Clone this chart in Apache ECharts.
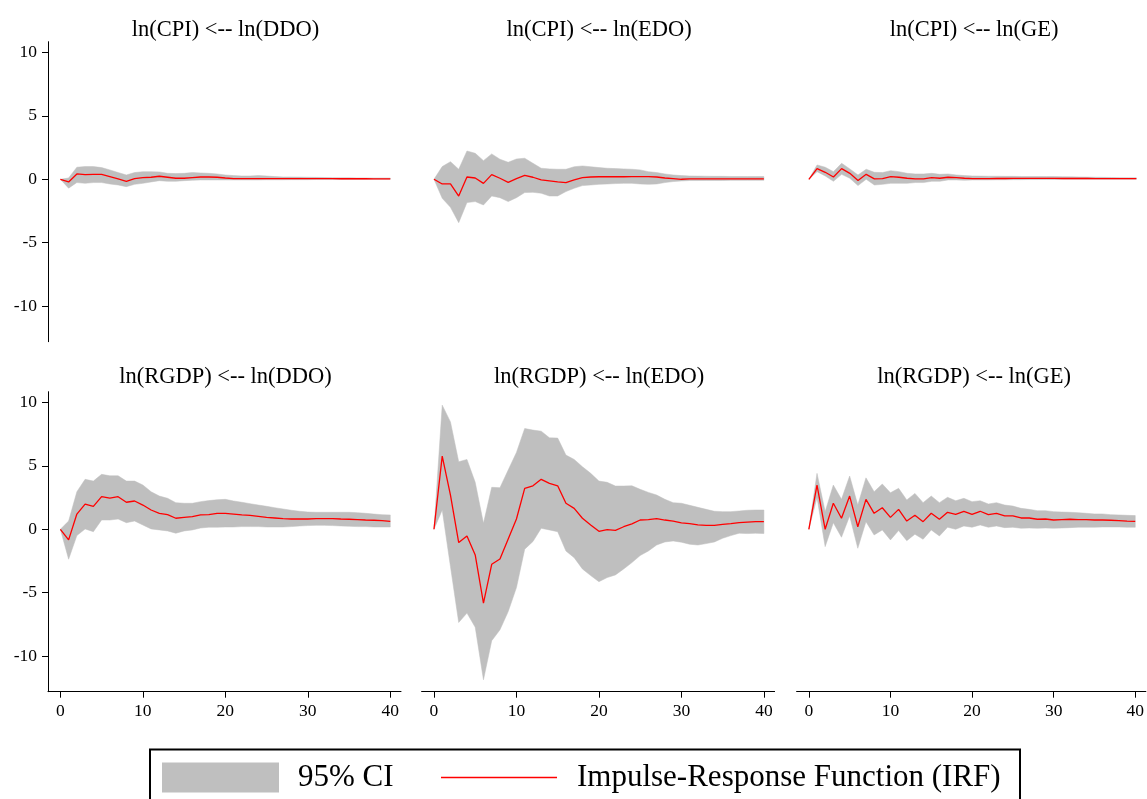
<!DOCTYPE html>
<html><head><meta charset="utf-8">
<script src="https://cdn.jsdelivr.net/npm/echarts@6/dist/echarts.min.js"></script>
<style>html,body{margin:0;padding:0;background:#fff}#c{width:1147px;height:799px}</style>
</head><body><div id="c"></div>
<script>
const steps = Array.from({length:41},(_,i)=>i);
const titles = ['ln(CPI) <-- ln(DDO)','ln(CPI) <-- ln(EDO)','ln(CPI) <-- ln(GE)',
                'ln(RGDP) <-- ln(DDO)','ln(RGDP) <-- ln(EDO)','ln(RGDP) <-- ln(GE)'];
const yTicks = [-10,-5,0,5,10];
const xTicks = [0,10,20,30,40];
const legendCI = '95% CI';
const legendIRF = 'Impulse-Response Function (IRF)';

const cpiDdoIrf = [0,-0.21,0.42,0.37,0.39,0.39,0.21,0.03,-0.16,0.05,0.13,0.16,0.24,0.16,0.08,0.08,0.13,0.18,0.18,0.16,0.1,0.05,0.05,0.05,0.05,0.05,0.05,0.05,0.05,0.05,0.05,0.05,0.05,0.05,0.04,0.04,0.04,0.04,0.03,0.03,0.03];
const cpiDdoUp  = [0,0.1,0.95,1.0,1.0,0.92,0.74,0.53,0.34,0.53,0.6,0.6,0.58,0.47,0.45,0.47,0.53,0.5,0.47,0.42,0.34,0.29,0.26,0.26,0.29,0.26,0.21,0.18,0.18,0.17,0.16,0.15,0.14,0.13,0.12,0.12,0.11,0.11,0.1,0.1,0.1];
const cpiDdoLo  = [0,-0.7,-0.26,-0.32,-0.26,-0.26,-0.37,-0.45,-0.58,-0.4,-0.32,-0.21,-0.11,-0.16,-0.16,-0.11,-0.08,-0.05,-0.05,-0.05,-0.05,-0.05,-0.05,-0.05,-0.05,-0.04,-0.04,-0.04,-0.03,-0.03,-0.03,-0.02,-0.02,-0.02,-0.02,-0.01,-0.01,-0.01,0,0,0];

const cpiEdoIrf = [0,-0.37,-0.37,-1.32,0.18,0.1,-0.32,0.37,0.08,-0.24,0.05,0.31,0.16,-0.05,-0.13,-0.21,-0.26,-0.05,0.13,0.18,0.2,0.2,0.2,0.2,0.21,0.21,0.21,0.18,0.1,0.05,0,0.03,0.03,0.03,0.03,0.03,0.03,0.03,0.03,0.03,0.03];
const cpiEdoUp  = [0,1.0,1.39,0.79,2.23,2.05,1.47,2.0,1.58,1.34,1.6,1.66,1.26,0.87,0.82,0.79,0.79,0.99,1.05,0.99,0.92,0.87,0.84,0.82,0.79,0.74,0.6,0.53,0.42,0.34,0.29,0.26,0.25,0.24,0.23,0.23,0.22,0.22,0.21,0.21,0.21];
const cpiEdoLo  = [0,-1.5,-2.21,-3.42,-1.84,-1.76,-2.03,-1.32,-1.45,-1.76,-1.45,-1.05,-1.03,-1.1,-1.32,-1.32,-0.97,-0.71,-0.5,-0.45,-0.4,-0.37,-0.34,-0.32,-0.32,-0.37,-0.4,-0.37,-0.26,-0.18,-0.13,-0.1,-0.1,-0.09,-0.09,-0.09,-0.08,-0.08,-0.08,-0.08,-0.08];

const cpiGeIrf = [0,0.84,0.55,0.18,0.84,0.47,-0.1,0.39,0.03,0.05,0.21,0.16,0.08,0.03,0.03,0.13,0.08,0.16,0.13,0.08,0.05,0.05,0.05,0.06,0.06,0.07,0.07,0.07,0.07,0.07,0.07,0.06,0.06,0.06,0.06,0.05,0.05,0.05,0.05,0.05,0.05];
const cpiGeUp  = [0,1.13,0.95,0.6,1.26,0.82,0.34,0.79,0.55,0.53,0.68,0.6,0.47,0.42,0.42,0.47,0.39,0.42,0.34,0.29,0.26,0.25,0.24,0.24,0.23,0.23,0.22,0.22,0.22,0.21,0.21,0.2,0.19,0.18,0.17,0.16,0.15,0.14,0.13,0.12,0.12];
const cpiGeLo  = [0,0.6,0.26,-0.16,0.39,0.08,-0.5,0,-0.45,-0.4,-0.32,-0.32,-0.32,-0.26,-0.26,-0.16,-0.16,-0.05,-0.05,-0.08,-0.05,-0.05,-0.05,-0.04,-0.04,-0.03,-0.03,-0.02,-0.02,-0.01,-0.01,0,0,0,0,0,0,0,0,0,0];

const gdpDdoIrf = [0,-0.84,1.2,1.99,1.81,2.57,2.46,2.57,2.13,2.23,1.91,1.52,1.26,1.15,0.87,0.94,0.99,1.13,1.15,1.26,1.26,1.2,1.13,1.1,1.02,0.94,0.89,0.84,0.81,0.81,0.81,0.84,0.84,0.84,0.81,0.79,0.76,0.73,0.71,0.68,0.63];
const gdpDdoUp  = [0,0.65,2.96,3.94,3.8,4.33,4.22,4.22,3.8,3.8,3.49,2.96,2.62,2.44,2.1,2.05,2.05,2.18,2.26,2.33,2.36,2.23,2.13,2.02,1.91,1.81,1.7,1.6,1.5,1.42,1.36,1.34,1.34,1.34,1.34,1.34,1.31,1.26,1.2,1.15,1.13];
const gdpDdoLo  = [0,-2.36,-0.5,0.03,-0.19,0.73,0.73,0.81,0.52,0.65,0.34,0.03,-0.05,-0.13,-0.31,-0.13,-0.05,0.1,0.16,0.16,0.18,0.18,0.21,0.21,0.21,0.18,0.18,0.18,0.21,0.26,0.29,0.31,0.31,0.29,0.26,0.24,0.21,0.21,0.18,0.18,0.18];

const gdpEdoIrf = [0,5.77,2.7,-1.05,-0.53,-2.02,-5.83,-2.76,-2.34,-0.76,0.81,3.23,3.43,3.94,3.62,3.43,2.05,1.65,0.87,0.34,-0.16,-0.03,-0.08,0.2,0.42,0.73,0.76,0.84,0.73,0.65,0.5,0.44,0.34,0.31,0.31,0.39,0.44,0.52,0.57,0.6,0.6];
const gdpEdoUp  = [0,9.79,8.47,5.32,5.51,3.7,0.47,3.31,3.28,4.67,6.06,7.95,7.82,7.74,7.21,7.19,5.85,5.51,4.93,4.41,3.8,3.7,3.41,3.41,3.43,3.15,2.91,2.7,2.36,2.1,2.05,1.89,1.73,1.57,1.42,1.39,1.39,1.44,1.5,1.52,1.52];
const gdpEdoLo  = [0,1.52,-2.94,-7.35,-6.61,-7.72,-11.87,-8.79,-7.93,-6.49,-4.6,-1.57,-0.97,0.08,-0.05,-0.19,-1.71,-2.24,-3.13,-3.65,-4.13,-3.81,-3.6,-3.13,-2.63,-2.07,-1.71,-1.24,-1.0,-0.92,-1.02,-1.18,-1.24,-1.13,-1.0,-0.71,-0.5,-0.31,-0.34,-0.31,-0.34];

const gdpGeIrf = [0,3.49,0,2.05,0.87,2.62,0.2,2.36,1.26,1.7,0.94,1.57,0.65,1.1,0.6,1.26,0.79,1.34,1.18,1.42,1.18,1.42,1.15,1.26,1.05,1.05,0.89,0.89,0.79,0.81,0.73,0.76,0.79,0.76,0.76,0.73,0.73,0.71,0.68,0.65,0.63];
const gdpGeUp  = [0,4.41,1.39,3.49,2.36,4.2,1.91,4.06,2.96,3.57,2.88,3.23,2.31,2.83,2.1,2.62,2.1,2.52,2.25,2.44,2.18,2.25,1.99,2.1,1.91,1.83,1.65,1.57,1.47,1.47,1.39,1.36,1.34,1.31,1.26,1.21,1.21,1.15,1.13,1.1,1.08];
const gdpGeLo  = [0,2.5,-1.37,0.52,-0.63,1.05,-1.5,0.6,-0.45,-0.05,-0.84,-0.1,-0.9,-0.39,-0.79,-0.05,-0.53,0.16,0,0.26,0.16,0.34,0.16,0.26,0.13,0.16,0.08,0.1,0.08,0.1,0.08,0.1,0.13,0.16,0.16,0.16,0.18,0.18,0.18,0.16,0.16];

const panels = [
  [cpiDdoIrf,cpiDdoUp,cpiDdoLo],[cpiEdoIrf,cpiEdoUp,cpiEdoLo],[cpiGeIrf,cpiGeUp,cpiGeLo],
  [gdpDdoIrf,gdpDdoUp,gdpDdoLo],[gdpEdoIrf,gdpEdoUp,gdpEdoLo],[gdpGeIrf,gdpGeUp,gdpGeLo]
];

const FONT = '"Liberation Serif","Times New Roman",serif';
const colLeft = [48, 421.6, 796.6], gridW = 353;
const rowTop = [41.7, 391.7], gridH = 300;
const titleTop = [14, 361];
const GRAY = '#bfbfbf';

const grid=[], xAxis=[], yAxis=[], series=[], title=[];
panels.forEach((p,i)=>{
  const r = Math.floor(i/3), c = i%3;
  grid.push({left:colLeft[c], top:rowTop[r], width:gridW, height:gridH});
  title.push({text:titles[i], left:colLeft[c]+gridW/2-4, top:titleTop[r], textAlign:'center',
    textStyle:{fontFamily:FONT,fontSize:22.5,fontWeight:'normal',color:'#000'}});
  const showX = r===1, showY = c===0;
  xAxis.push({type:'value', gridIndex:i, min:-1.5, max:41.3, show:showX,
    axisLine:{show:true,onZero:false,lineStyle:{color:'#000',width:1}},
    axisTick:{show:true,length:6,customValues:xTicks,lineStyle:{color:'#000'}},
    axisLabel:{customValues:xTicks,margin:11,fontFamily:FONT,fontSize:17.5,color:'#000'},
    splitLine:{show:false}});
  yAxis.push({type:'value', gridIndex:i, min:-12.81, max:10.85, show:showY,
    axisLine:{show:true,onZero:false,lineStyle:{color:'#000',width:1}},
    axisTick:{show:true,length:6,customValues:yTicks,lineStyle:{color:'#000'}},
    axisLabel:{customValues:yTicks,margin:11,fontFamily:FONT,fontSize:17.5,color:'#000'},
    splitLine:{show:false}});
  const [irf,up,lo] = p;
  series.push({type:'custom', name:legendCI, xAxisIndex:i, yAxisIndex:i, silent:true,
    itemStyle:{color:GRAY},
    data:steps.map(t=>[t,lo[t],up[t]]), encode:{x:0,y:[1,2]},
    renderItem:(params, api)=>{
      if (params.dataIndex !== 0) return null;
      const pts = [];
      steps.forEach(t=>pts.push(api.coord([t, up[t]])));
      for (let k=steps.length-1;k>=0;k--) pts.push(api.coord([steps[k], lo[k]]));
      return {type:'polygon', shape:{points:pts}, style:{fill:GRAY, stroke:GRAY, lineWidth:0.5}};
    }});
  series.push({type:'line', name:legendIRF, xAxisIndex:i, yAxisIndex:i,
    data:steps.map(t=>[t,irf[t]]), symbol:'none', silent:true, color:'#ff0000',
    itemStyle:{color:'#ff0000'}, lineStyle:{color:'#ff0000',width:1.3}, z:3});
});

const chart = echarts.init(document.getElementById('c'), null, {renderer:'canvas'});
chart.setOption({
  animation:false, backgroundColor:'#fff',
  title, grid, xAxis, yAxis, series,
  legend:[
    {data:[{name:legendCI,icon:'rect',itemStyle:{color:GRAY}}], left:162, top:762, padding:0,
     itemWidth:117, itemHeight:30, selectedMode:false,
     textStyle:{fontFamily:FONT,fontSize:31,color:'#000',padding:[0,0,0,14]}},
    {data:[{name:legendIRF,icon:'rect',itemStyle:{color:'#ff0000'}}], left:441, top:762, padding:0,
     itemWidth:116, itemHeight:1.6, selectedMode:false,
     textStyle:{fontFamily:FONT,fontSize:31,color:'#000',padding:[0,0,0,15]}}
  ],
  graphic:[{type:'rect', shape:{x:150,y:749.5,width:870,height:80},
    style:{fill:'none',stroke:'#000',lineWidth:2}, silent:true}]
});
</script></body></html>
